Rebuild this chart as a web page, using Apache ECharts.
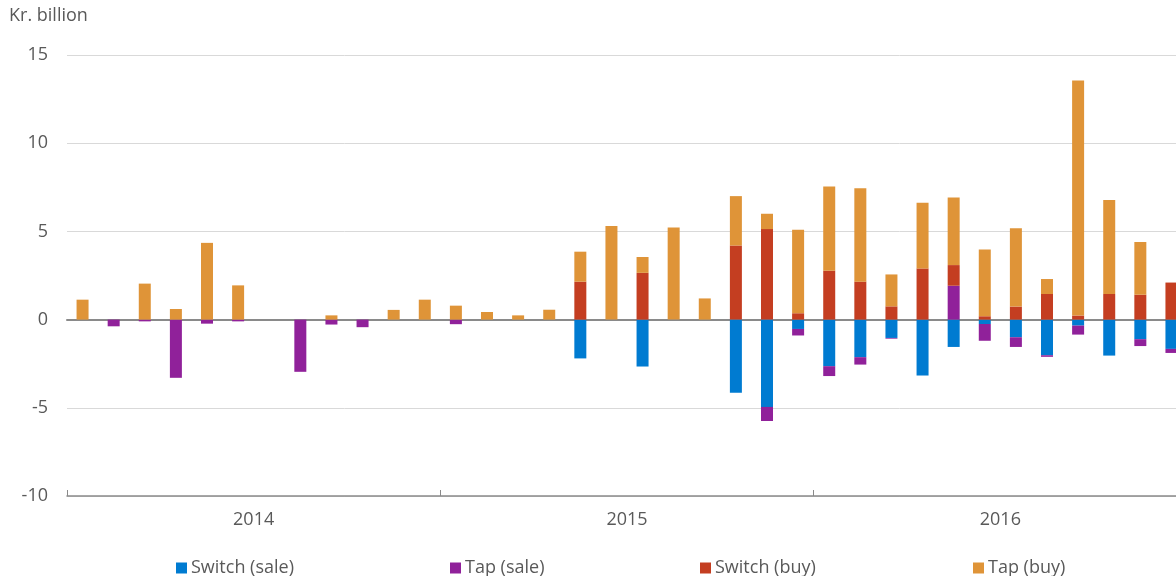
<!DOCTYPE html>
<html>
<head>
<meta charset="utf-8">
<script src="https://cdn.jsdelivr.net/npm/echarts@6/dist/echarts.min.js"></script>
<style>
html,body{margin:0;padding:0;background:#fff;}
#chart{width:1176px;height:576px;}
</style>
</head>
<body>
<div id="chart"></div>
<script>
// 36 monthly categories, Jan 2014 .. Dec 2016
const years = ['2014', '2015', '2016'];
const months = [];
years.forEach(function (y) { for (let m = 1; m <= 12; m++) months.push(y + '-' + (m < 10 ? '0' + m : m)); });

const switchSale = [
  0, 0, 0, 0, 0, 0, 0, 0, 0, 0, 0, 0,
  0, 0, 0, 0, -2.2, 0, -2.66, 0, 0, -4.15, -4.95, -0.53,
  -2.64, -2.13, -1.04, -3.17, -1.55, -0.25, -1.0, -2.02, -0.34, -2.04, -1.11, -1.66
];
const tapSale = [
  0, -0.38, -0.1, -3.3, -0.23, -0.1, 0, -2.96, -0.28, -0.43, 0, 0,
  -0.26, 0, 0, 0, 0, 0, 0, 0, 0, 0, -0.8, -0.37,
  -0.56, -0.42, -0.04, 0, 1.92, -0.95, -0.55, -0.09, -0.51, 0, -0.39, -0.23
];
const switchBuy = [
  0, 0, 0, 0, 0, 0, 0, 0, 0, 0, 0, 0,
  0, 0, 0, 0, 2.15, 0, 2.65, 0, 0, 4.2, 5.13, 0.36,
  2.77, 2.15, 0.75, 2.9, 1.17, 0.19, 0.74, 1.45, 0.23, 1.45, 1.41, 2.1
];
const tapBuy = [
  1.13, 0, 2.04, 0.6, 4.35, 1.94, 0, 0, 0.24, 0, 0.55, 1.13,
  0.79, 0.43, 0.24, 0.56, 1.7, 5.3, 0.9, 5.22, 1.2, 2.8, 0.87, 4.74,
  4.78, 5.29, 1.81, 3.73, 3.83, 3.79, 4.44, 0.85, 13.32, 5.33, 2.99, 0
];
const yTicks = { min: -10, max: 15, interval: 5 };

const seriesNames = ['Switch (sale)', 'Tap (sale)', 'Switch (buy)', 'Tap (buy)'];
const seriesData = [switchSale, tapSale, switchBuy, tapBuy];
const colors = ['#007bd1', '#90219a', '#c43e21', '#df9438'];
const legendLeft = [176, 450, 700, 973];
const FONT = 'Open Sans';
const TXT = '#595959';
const FS = 18;

const chart = echarts.init(document.getElementById('chart'), null, { renderer: 'canvas' });

const option = {
  animation: false,
  backgroundColor: '#fff',
  textStyle: { fontFamily: FONT },
  title: {
    text: 'Kr. billion', left: 9, top: 7, padding: 0,
    textStyle: { color: TXT, fontSize: FS, fontWeight: 'normal', fontFamily: FONT }
  },
  grid: { left: 67, width: 1120, top: 55, bottom: 80, containLabel: false, outerBoundsMode: 'none' },
  legend: seriesNames.map(function (n, i) {
    return {
      data: [n], left: legendLeft[i], top: 559, itemWidth: 11, itemHeight: 11, itemGap: 4,
      icon: 'rect', selectedMode: false, padding: 0,
      textStyle: { color: TXT, fontSize: FS, fontFamily: FONT, padding: [0, 0, 0, -1] }
    };
  }),
  xAxis: [
    {
      type: 'category', data: months, boundaryGap: true,
      axisLine: { show: true, onZero: true, lineStyle: { color: '#8a8a8a', width: 2 } },
      axisTick: { show: false }, axisLabel: { show: false }, splitLine: { show: false }
    },
    {
      type: 'category', data: years, position: 'bottom', boundaryGap: true,
      axisLine: { show: true, onZero: false, lineStyle: { color: '#8a8a8a', width: 1.5 } },
      axisTick: { show: true, inside: true, length: 6, lineStyle: { color: '#8a8a8a', width: 1 } },
      axisLabel: { show: true, color: TXT, fontSize: FS, fontFamily: FONT, margin: 15 },
      splitLine: { show: false }
    }
  ],
  yAxis: {
    type: 'value', min: yTicks.min, max: yTicks.max, interval: yTicks.interval,
    axisLine: { show: false }, axisTick: { show: false },
    axisLabel: { color: TXT, fontSize: FS, fontFamily: FONT, margin: 19 },
    splitLine: { show: true, lineStyle: { color: '#d9d9d9', width: 1 } }
  },
  series: seriesNames.map(function (n, i) {
    return {
      name: n, type: 'bar', stack: 'total', xAxisIndex: 0, barWidth: 12,
      itemStyle: { color: colors[i] },
      data: seriesData[i].map(function (v) { return v === 0 ? '-' : v; })
    };
  })
};
chart.setOption(option);
</script>
</body>
</html>
